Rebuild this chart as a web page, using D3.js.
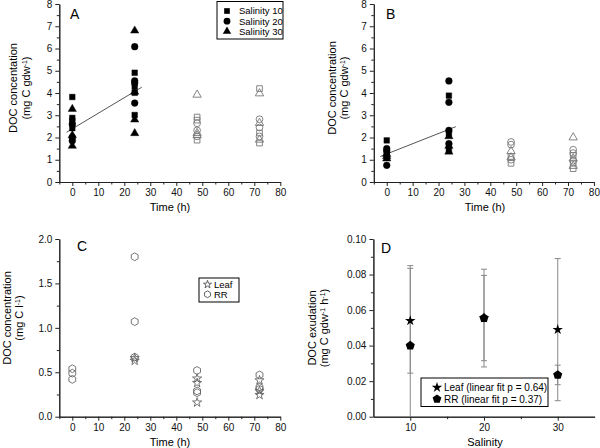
<!DOCTYPE html>
<html><head><meta charset="utf-8">
<script src="https://cdn.jsdelivr.net/npm/d3@7"></script>
<style>
body{margin:0;background:#fff;}
svg{display:block;font-family:"Liberation Sans",Arial,sans-serif;}
</style></head>
<body><svg id="c" width="600" height="448"></svg>
<script>
// ---------- DATA ----------
// Panel A: [time (h), DOC (mg C gdw-1)]
const A_sal10 = [[0,3.82],[0,2.88],[0,2.75],[0,2.42],[24,4.91],[24,4.28],[24,4.01],[24,3.01],[48,2.92],[48,2.78],[48,1.88],[72,4.2],[72,2.2],[72,1.75]];
const A_sal20 = [[0,2.6],[0,2.0],[0,1.85],[24,6.08],[24,4.55],[24,4.45],[24,3.55],[48,2.64],[48,2.32],[48,2.05],[72,2.82],[72,2.45],[72,2.05]];
const A_sal30 = [[0,3.28],[0,2.1],[0,1.62],[24,6.8],[24,4.05],[24,2.8],[24,2.19],[48,3.92],[48,2.2],[48,2.1],[72,3.98],[72,2.65],[72,1.9]];
const A_fit = {intercept: 2.39, slope: 0.070, from: -2.2, to: 26.7};
// Panel B
const B_sal10 = [[0,1.87],[0,1.3],[0,1.2],[24,3.88],[24,2.18],[24,1.42],[48,1.15],[48,0.84],[72,1.2],[72,0.85],[72,0.6]];
const B_sal20 = [[0,1.5],[0,1.4],[0,0.75],[24,4.54],[24,3.58],[24,2.32],[24,1.72],[48,1.8],[48,1.68],[48,1.0],[72,1.45],[72,1.3],[72,0.95]];
const B_sal30 = [[0,1.15],[0,1.05],[0,1.25],[24,2.05],[24,1.62],[24,1.36],[48,1.38],[48,1.1],[72,2.0],[72,1.05],[72,0.72]];
const B_fit = {intercept: 1.26, slope: 0.046, from: -2.5, to: 26.7};
// Panel C: [time (h), DOC (mg C l-1)]
const C_leaf = [[24,0.66],[24,0.63],[48,0.43],[48,0.38],[48,0.16],[72,0.41],[72,0.29],[72,0.245]];
const C_rr = [[0,0.54],[0,0.49],[0,0.42],[24,1.8],[24,1.07],[24,0.67],[48,0.52],[48,0.29],[48,0.27],[72,0.47],[72,0.33],[72,0.31]];
// Panel D: salinity, mean, error
const D_salinity = [10, 20, 30];
const D_leafMean = [0.054, 0.0555, 0.049];
const D_leafErr  = [0.0295, 0.024, 0.040];
const D_rrMean   = [0.040, 0.0555, 0.0235];
const D_rrErr    = [0.045, 0.0275, 0.0055];

const legendA = ["Salinity 10","Salinity 20","Salinity 30"];
const legendC = ["Leaf","RR"];
const legendD = ["Leaf (linear fit p = 0.64)","RR (linear fit p = 0.37)"];

// ---------- helpers ----------
const svg = d3.select("#c");
const FONT = 10;
const hexagon = {draw(ctx, size){const r=Math.sqrt(size/2.598);for(let i=0;i<6;i++){const a=Math.PI/6+i*Math.PI/3;const x=r*Math.cos(a),y=r*Math.sin(a);i?ctx.lineTo(x,y):ctx.moveTo(x,y);}ctx.closePath();}};
const pentagon = {draw(ctx, size){const r=Math.sqrt(size/2.378);for(let i=0;i<5;i++){const a=-Math.PI/2+i*2*Math.PI/5;const x=r*Math.cos(a),y=r*Math.sin(a);i?ctx.lineTo(x,y):ctx.moveTo(x,y);}ctx.closePath();}};

function axes(g, x, y, opt){
  const xa = d3.axisBottom(x).tickValues(opt.xMajor).tickSize(4).tickSizeOuter(0).tickPadding(3).tickFormat(opt.xFmt);
  const xm = d3.axisBottom(x).tickValues(opt.xMinor).tickSize(2.5).tickSizeOuter(0).tickFormat("");
  const ya = d3.axisLeft(y).tickValues(opt.yMajor).tickSize(4).tickSizeOuter(0).tickPadding(3).tickFormat(opt.yFmt);
  const ym = d3.axisLeft(y).tickValues(opt.yMinor).tickSize(2.5).tickSizeOuter(0).tickFormat("");
  const y0 = y.range()[0], x0 = x.range()[0];
  [xm, xa].forEach(a=>g.append("g").attr("transform",`translate(0,${y0})`).call(a));
  [ym, ya].forEach(a=>g.append("g").attr("transform",`translate(${x0},0)`).call(a));
  g.selectAll(".tick text").attr("font-size",FONT).attr("font-family","Liberation Sans, Arial, sans-serif").attr("fill","#111");
  g.selectAll(".domain,.tick line").attr("stroke","#222").attr("stroke-width",1);
}
function ylabel(g, cx, cy, line1, line2parts, gap){
  g.append("text").attr("transform",`translate(${cx},${cy}) rotate(-90)`).attr("text-anchor","middle").attr("font-size",11).text(line1);
  const t2 = g.append("text").attr("transform",`translate(${cx+gap},${cy}) rotate(-90)`).attr("text-anchor","middle").attr("font-size",11);
  line2parts.forEach(p=>{
    if(p.sup) t2.append("tspan").attr("font-size",7).attr("baseline-shift","super").text(p.t);
    else t2.append("tspan").text(p.t);
  });
}
function xlabel(g, cx, y, txt){g.append("text").attr("x",cx).attr("y",y).attr("text-anchor","middle").attr("font-size",11).text(txt);}
function letter(g, x, y, txt){g.append("text").attr("x",x).attr("y",y).attr("font-size",14).text(txt);}

function scatter(g, data, x, y, type, size, openAfter){
  g.selectAll(null).data(data).join("path")
    .attr("transform",d=>`translate(${x(d[0])},${y(d[1])})`)
    .attr("d",d3.symbol(type,size))
    .attr("fill",d=>d[0]>openAfter?"none":"#000")
    .attr("stroke",d=>d[0]>openAfter?"#777":"#000")
    .attr("stroke-width",d=>d[0]>openAfter?0.9:0.4);
}
function fitLine(g, f, x, y){
  g.append("line").attr("x1",x(f.from)).attr("y1",y(f.intercept+f.slope*f.from))
   .attr("x2",x(f.to)).attr("y2",y(f.intercept+f.slope*f.to)).attr("stroke","#555").attr("stroke-width",1);
}
const tMajor = d3.range(0,81,10), tMinor = d3.range(-5,80,10);
const timeFmt = d3.format("d");

// ---------- Panel A ----------
{
  const g = svg.append("g");
  const x = d3.scaleLinear().domain([-5,80]).range([59.3,280.3]);
  const y = d3.scaleLinear().domain([0,8]).range([182,4]);
  axes(g,x,y,{xMajor:tMajor,xMinor:tMinor,xFmt:timeFmt,yMajor:d3.range(0,9),yMinor:d3.range(0.5,8,1),yFmt:d3.format("d")});
  fitLine(g,A_fit,x,y);
  scatter(g,A_sal10,x,y,d3.symbolSquare,32,24);
  scatter(g,A_sal20,x,y,d3.symbolCircle,36,24);
  scatter(g,A_sal30,x,y,d3.symbolTriangle,30,24);
  ylabel(g,17,88,"DOC concentation",[{t:"(mg C gdw"},{t:"-1",sup:true},{t:")"}],13);
  xlabel(g,170,211,"Time (h)");
  letter(g,70,19,"A");
  g.append("rect").attr("x",217).attr("y",1.5).attr("width",66).attr("height",37.5).attr("fill","#fff").attr("stroke","#000").attr("stroke-width",1);
  const types=[d3.symbolSquare,d3.symbolCircle,d3.symbolTriangle], sizes=[32,36,30];
  legendA.forEach((l,i)=>{
    const yy = 11+i*10.2;
    g.append("path").attr("transform",`translate(227,${yy})`).attr("d",d3.symbol(types[i],sizes[i])).attr("fill","#000");
    g.append("text").attr("x",239).attr("y",yy+3.4).attr("font-size",9.5).text(l);
  });
}
// ---------- Panel B ----------
{
  const g = svg.append("g");
  const x = d3.scaleLinear().domain([-5,80]).range([373.8,593.9]);
  const y = d3.scaleLinear().domain([0,8]).range([182,4]);
  axes(g,x,y,{xMajor:tMajor,xMinor:tMinor,xFmt:timeFmt,yMajor:d3.range(0,9),yMinor:d3.range(0.5,8,1),yFmt:d3.format("d")});
  fitLine(g,B_fit,x,y);
  scatter(g,B_sal10,x,y,d3.symbolSquare,32,24);
  scatter(g,B_sal20,x,y,d3.symbolCircle,36,24);
  scatter(g,B_sal30,x,y,d3.symbolTriangle,30,24);
  ylabel(g,336,88,"DOC concentration",[{t:"(mg C gdw"},{t:"-1",sup:true},{t:")"}],12);
  xlabel(g,485,211,"Time (h)");
  letter(g,386,19,"B");
}
// ---------- Panel C ----------
{
  const g = svg.append("g");
  const x = d3.scaleLinear().domain([-5,80]).range([59.3,280.3]);
  const y = d3.scaleLinear().domain([0,2]).range([416.7,239]);
  axes(g,x,y,{xMajor:tMajor,xMinor:tMinor,xFmt:timeFmt,yMajor:d3.range(0,2.01,0.5),yMinor:d3.range(0.25,2,0.5),yFmt:d3.format(".1f")});
  const st = (data,type,size)=>g.selectAll(null).data(data).join("path")
    .attr("transform",d=>`translate(${x(d[0])},${y(d[1])})`).attr("d",d3.symbol(type,size))
    .attr("fill","none").attr("stroke","#666").attr("stroke-width",0.9);
  st(C_rr,hexagon,40);
  st(C_leaf,d3.symbolStar,26);
  ylabel(g,10.5,318,"DOC concentration",[{t:"(mg C l"},{t:"-1",sup:true},{t:")"}],12);
  xlabel(g,170,446,"Time (h)");
  letter(g,77,251,"C");
  g.append("rect").attr("x",199).attr("y",278).attr("width",40).attr("height",24).attr("fill","#fff").attr("stroke","#000").attr("stroke-width",1);
  const types=[d3.symbolStar,hexagon], sizes=[20,30];
  legendC.forEach((l,i)=>{
    const yy = 284.5+i*9.8;
    g.append("path").attr("transform",`translate(207.5,${yy})`).attr("d",d3.symbol(types[i],sizes[i])).attr("fill","none").attr("stroke","#555").attr("stroke-width",0.9);
    g.append("text").attr("x",214).attr("y",yy+3.3).attr("font-size",9.5).text(l);
  });
}
// ---------- Panel D ----------
{
  const g = svg.append("g");
  const x = d3.scaleLinear().domain([5,35]).range([373.4,594.6]);
  const y = d3.scaleLinear().domain([0,0.1]).range([416.7,239]);
  axes(g,x,y,{xMajor:[10,20,30],xMinor:[15,25],xFmt:d3.format("d"),yMajor:d3.range(0,0.1001,0.02),yMinor:d3.range(0.01,0.1,0.02),yFmt:d3.format(".2f")});
  const err = (means, errs)=>{
    D_salinity.forEach((s,i)=>{
      const lo = Math.max(0, means[i]-errs[i]), hi = means[i]+errs[i];
      g.append("line").attr("x1",x(s)).attr("x2",x(s)).attr("y1",y(lo)).attr("y2",y(hi)).attr("stroke","#888").attr("stroke-width",1);
      [lo,hi].forEach(v=>{ if(v>0) g.append("line").attr("x1",x(s)-3).attr("x2",x(s)+3).attr("y1",y(v)).attr("y2",y(v)).attr("stroke","#888").attr("stroke-width",1);});
    });
  };
  err(D_rrMean,D_rrErr);
  err(D_leafMean,D_leafErr);
  g.selectAll(null).data(D_salinity).join("path")
    .attr("transform",(d,i)=>`translate(${x(d)},${y(D_rrMean[i])})`).attr("d",d3.symbol(pentagon,55)).attr("fill","#000");
  g.selectAll(null).data(D_salinity).join("path")
    .attr("transform",(d,i)=>`translate(${x(d)},${y(D_leafMean[i])})`).attr("d",d3.symbol(d3.symbolStar,34)).attr("fill","#000");
  ylabel(g,316,328,"DOC exudation",[{t:"(mg C gdw"},{t:"-1",sup:true},{t:" h"},{t:"-1",sup:true},{t:")"}],12);
  xlabel(g,485,446,"Salinity");
  letter(g,381,253,"D");
  g.append("rect").attr("x",421).attr("y",378).attr("width",127).attr("height",28.5).attr("fill","#fff").attr("stroke","#000").attr("stroke-width",1);
  const types=[d3.symbolStar,pentagon], sizes=[34,50];
  legendD.forEach((l,i)=>{
    const yy = 387.5+i*11.5;
    g.append("path").attr("transform",`translate(437,${yy})`).attr("d",d3.symbol(types[i],sizes[i])).attr("fill","#000");
    g.append("text").attr("x",444).attr("y",yy+3.6).attr("font-size",10).text(l);
  });
}
</script></body></html>
